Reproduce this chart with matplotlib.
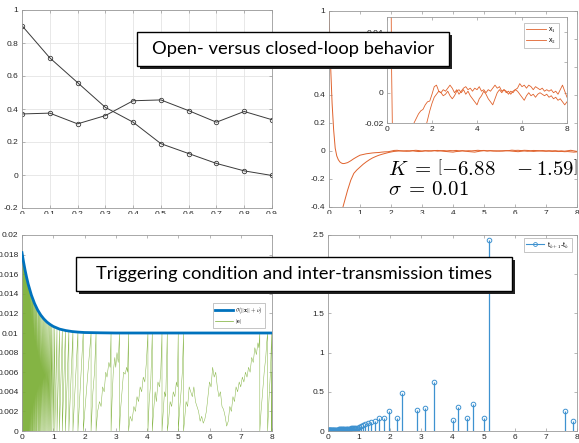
import numpy as np
import matplotlib
matplotlib.use("Agg")
from matplotlib import pyplot as plt
from matplotlib.lines import Line2D
from matplotlib.patches import Rectangle
from matplotlib.ticker import FormatStrFormatter

plt.rcParams['font.family'] = ['Liberation Sans', 'DejaVu Sans']
plt.rcParams['mathtext.fontset'] = 'cm'

W, H = 579, 443

# --- top left: open loop samples
ol_t = [0, 0.1, 0.2, 0.3, 0.4, 0.5, 0.6, 0.7, 0.8, 0.9]
ol_x1 = [0.905, 0.71, 0.56, 0.41, 0.32, 0.19, 0.13, 0.07, 0.025, -0.003]
ol_x2 = [0.37, 0.375, 0.31, 0.36, 0.45, 0.455, 0.39, 0.32, 0.385, 0.335]

# --- top right: closed loop states
cl_t = [0, 0.05, 0.1, 0.15, 0.2, 0.25, 0.3, 0.35, 0.4, 0.45, 0.5,
        0.6, 0.7, 0.8, 0.9, 1.0, 1.1, 1.2, 1.3, 1.4, 1.5, 1.6, 1.7, 1.8, 1.9, 2.0, 2.1,
        2.2, 2.3, 2.4, 2.5, 2.6, 2.7, 2.8, 2.9, 3.0, 3.1, 3.2, 3.3, 3.4, 3.5, 3.6, 3.7,
        3.8, 3.9, 4.0, 4.1, 4.2, 4.3, 4.4, 4.5, 4.6, 4.7, 4.8, 4.9, 5.0, 5.1, 5.2, 5.3,
        5.4, 5.5, 5.6, 5.7, 5.8, 5.9, 6.0, 6.1, 6.2, 6.3, 6.4, 6.5, 6.6, 6.7, 6.8, 6.9,
        7.0, 7.1, 7.2, 7.3, 7.4, 7.5, 7.6, 7.7, 7.8, 7.9, 8.0]
cl_x1 = [1.0, 0.62, 0.34, 0.15, 0.02, -0.035, -0.062, -0.078, -0.086, -0.09, -0.089,
         -0.083, -0.07, -0.055, -0.042, -0.03, -0.025, -0.02, -0.017, -0.014, -0.012,
         -0.011, -0.008, -0.006, -0.0055, -0.001, 0.004,
         0.005, 0.001, 0.0, 0.002, 0.001, 0.003, 0.005, 0.003, 0.0, 0.002, -0.001, 0.001,
         0.003, 0.004, 0.002, 0.003, 0.001, 0.003, 0.002, 0.004, 0.001, 0.002, 0.0, 0.002,
         0.001, 0.003, 0.005, 0.003, 0.004, 0.001, 0.002, 0.0, 0.001, -0.001, 0.001, 0.002,
         0.003, 0.006, 0.004, 0.005, 0.003, 0.005, 0.004, 0.002, 0.004, 0.003, 0.002, 0.003,
         0.001, 0.002, 0.001, 0.002, 0.0, 0.001, -0.001, 0.002, 0.005, 0.001, -0.003]
cl_x2 = [-2.0, -1.5, -1.15, -0.9, -0.75, -0.62, -0.54, -0.48, -0.44, -0.40, -0.36,
         -0.28, -0.21, -0.16, -0.135, -0.115, -0.095, -0.078, -0.063, -0.05, -0.04,
         -0.031, -0.024, -0.018, -0.012, -0.007, -0.003,
         -0.001, 0.001, 0.0, -0.002, -0.001, 0.001, -0.002, -0.004, -0.002, 0.001, 0.002, 0.0,
         0.002, -0.001, 0.001, -0.002, -0.004, -0.006, -0.008, -0.004, -0.002, 0.001, -0.001,
         -0.004, -0.006, -0.008, -0.004, 0.0, 0.002, 0.0, 0.002, 0.001, -0.001, 0.001, 0.0,
         0.002, 0.001, -0.001, -0.003, -0.005, -0.002, 0.0, -0.002, -0.001, -0.003, -0.001,
         0.0, -0.001, -0.002, -0.001, -0.003, -0.002, -0.004, -0.003, -0.005, -0.004, -0.006,
         -0.008, -0.006]

# --- bottom: triggering threshold sigma(|x|+nu)
thr_t = [0, 0.05, 0.1, 0.15, 0.2, 0.3, 0.4, 0.5, 0.6, 0.7, 0.8, 0.9, 1.0, 1.2, 1.4,
         1.6, 1.8, 2.0, 2.5, 3.0, 4.0, 5.0, 6.0, 7.0, 8.0]
thr_v = [0.0182, 0.01724, 0.01639, 0.01564, 0.01497, 0.01387, 0.01302, 0.01235, 0.01183,
         0.01143, 0.01111, 0.01087, 0.01067, 0.0104, 0.01025, 0.01015, 0.01009, 0.01005,
         0.01002, 0.0100, 0.0100, 0.0100, 0.0100, 0.0100, 0.0100]

# transmission instants t_k
trig_t = [0.000, 0.006, 0.013, 0.020, 0.028, 0.036, 0.045, 0.054, 0.064, 0.074, 0.085,
          0.096, 0.108, 0.120, 0.133, 0.146, 0.160, 0.174, 0.189, 0.204, 0.220, 0.236,
          0.253, 0.270, 0.288, 0.306, 0.325, 0.344, 0.364, 0.384, 0.405, 0.427, 0.449,
          0.472, 0.496, 0.520, 0.545, 0.571, 0.597, 0.624, 0.652, 0.681, 0.711, 0.742,
          0.774, 0.807, 0.841, 0.876, 0.912, 0.952, 0.995, 1.05, 1.12, 1.20, 1.29, 1.39,
          1.50, 1.63, 1.79, 1.96, 2.21, 2.37, 2.85, 3.12, 3.41, 4.03, 4.17, 4.48, 4.65,
          5.00, 5.17, 7.61, 7.86, 7.99]
# |e| just before each next transmission
e_peak = [0.0181, 0.0180, 0.0178, 0.0176, 0.0175, 0.0173, 0.0172, 0.0170, 0.0168, 0.0166,
          0.0164, 0.0163, 0.0161, 0.0159, 0.0157, 0.0155, 0.0153, 0.0151, 0.0149, 0.0148,
          0.0146, 0.0144, 0.0142, 0.0140, 0.0138, 0.0136, 0.0135, 0.0133, 0.0132, 0.0130,
          0.0129, 0.0127, 0.0126, 0.0124, 0.0123, 0.0121, 0.0120, 0.0118, 0.0117, 0.0116,
          0.0115, 0.0114, 0.0113, 0.0112, 0.0111, 0.0110, 0.0109, 0.0108, 0.0108, 0.0107,
          0.0106, 0.0105, 0.0104, 0.0103, 0.0103, 0.0102, 0.0102, 0.0101, 0.0101, 0.0100,
          0.0100, 0.0100, 0.0100, 0.0100, 0.0100, 0.0100, 0.0100, 0.0100, 0.0100, 0.0100,
          0.0100, 0.0100, 0.0100]
e_end = 0.006
# |e| in between transmissions (later, slower intervals)
e_mid_t = [2.27, 2.32,
           2.42, 2.48, 2.53, 2.58, 2.63, 2.68, 2.72, 2.78, 2.82,
           2.88, 2.92, 2.97, 3.0, 3.04, 3.08,
           3.15, 3.2, 3.25, 3.3, 3.35, 3.38,
           3.46, 3.52, 3.58, 3.63, 3.68, 3.73, 3.78, 3.83, 3.88, 3.93, 3.98,
           4.07, 4.12,
           4.21, 4.26, 4.3, 4.35, 4.4, 4.44,
           4.52, 4.56, 4.6,
           4.69, 4.74, 4.79, 4.84, 4.89, 4.94, 4.97,
           5.04, 5.09, 5.13,
           5.2, 5.25, 5.3, 5.35, 5.4, 5.45, 5.5, 5.55, 5.6, 5.65, 5.7, 5.75, 5.8, 5.85,
           5.9, 5.95, 6.0, 6.05, 6.1, 6.15, 6.2, 6.25, 6.3, 6.35, 6.4, 6.45, 6.5, 6.55,
           6.6, 6.65, 6.7, 6.75, 6.8, 6.85, 6.9, 6.95, 7.0, 7.05, 7.1, 7.15, 7.2, 7.25,
           7.3, 7.35, 7.4, 7.45, 7.5, 7.55, 7.58,
           7.65, 7.7, 7.75, 7.8, 7.83,
           7.9, 7.95]
e_mid_v = [0.004, 0.006,
           0.002, 0.003, 0.0025, 0.0045, 0.004, 0.006, 0.0055, 0.007, 0.0065,
           0.003, 0.006, 0.0075, 0.0065, 0.008, 0.007,
           0.002, 0.004, 0.006, 0.0058, 0.0065, 0.006,
           0.0015, 0.001, 0.0025, 0.002, 0.0035, 0.003, 0.0045, 0.004, 0.0055, 0.005, 0.007,
           0.003, 0.005,
           0.002, 0.004, 0.003, 0.005, 0.0045, 0.006,
           0.002, 0.004, 0.0035,
           0.001, 0.003, 0.0025, 0.004, 0.0035, 0.005, 0.0045,
           0.002, 0.004, 0.006,
           0.001, 0.003, 0.0025, 0.0045, 0.004, 0.0035, 0.0045, 0.003, 0.0025, 0.002, 0.001,
           0.0015, 0.0008, 0.0012, 0.002, 0.0035, 0.005, 0.0045, 0.0065, 0.0055, 0.006,
           0.0045, 0.0035, 0.004, 0.0025, 0.0022, 0.0015, 0.0005, 0.001, 0.0025, 0.002,
           0.0035, 0.003, 0.0045, 0.004, 0.005, 0.0045, 0.0055, 0.005, 0.006, 0.0055,
           0.0065, 0.006, 0.0075, 0.007, 0.0085, 0.0078, 0.009, 0.0085,
           0.002, 0.004, 0.006, 0.0075, 0.009,
           0.003, 0.006]

ORANGE = '#E0622C'
BLUE = '#0072BD'
STEM = '#3E92D0'
GREEN = '#77AC30'
SPINE = '#9a9a9a'


def px_axes(fig, left, top, right, bottom):
    return fig.add_axes([left / W, 1 - bottom / H, (right - left) / W, (bottom - top) / H])


def matlab_style(ax, fs=6):
    for s in ax.spines.values():
        s.set_color(SPINE)
        s.set_linewidth(0.6)
    ax.tick_params(direction='in', length=2.5, width=0.5, colors=SPINE,
                   labelcolor='#262626', labelsize=fs, top=True, right=True, pad=2.5)


def small_legend(ax, handles, labels, anchor, fs, hl):
    leg = ax.legend(handles, labels, loc='upper right', bbox_to_anchor=anchor, fontsize=fs,
                    frameon=True, fancybox=False, edgecolor=SPINE, handlelength=hl,
                    borderpad=0.35, labelspacing=0.25, handletextpad=0.4, borderaxespad=0)
    leg.get_frame().set_linewidth(0.5)
    return leg


def title_box(fig, text, left, top, right, bottom):
    shadow = Rectangle((left / W + 2.5 / W, 1 - bottom / H - 2.5 / H), (right - left) / W,
                       (bottom - top) / H, transform=fig.transFigure, facecolor='#222222',
                       edgecolor='none', zorder=20)
    box = Rectangle((left / W, 1 - bottom / H), (right - left) / W, (bottom - top) / H,
                    transform=fig.transFigure, facecolor='white', edgecolor='black',
                    linewidth=1.0, zorder=21)
    fig.add_artist(shadow)
    fig.add_artist(box)
    fig.text((left + right) / 2 / W, 1 - (top + bottom) / 2 / H, text, ha='center',
             va='center', fontsize=13.2, family=['Lato', 'DejaVu Sans'], zorder=22)


fig = plt.figure(figsize=(W / 100, H / 100), dpi=100)

# top left
ax1 = px_axes(fig, 22, 10, 272, 208)
ax1.plot(ol_t, ol_x1, '-o', color='#3a3a3a', lw=0.7, ms=3.2, mfc='none', mew=0.6)
ax1.plot(ol_t, ol_x2, '-o', color='#3a3a3a', lw=0.7, ms=3.2, mfc='none', mew=0.6)
ax1.set_xlim(0, 0.9)
ax1.set_ylim(-0.2, 1)
ax1.set_xticks(ol_t)
ax1.set_yticks([-0.2, 0, 0.2, 0.4, 0.6, 0.8, 1])
ax1.xaxis.set_major_formatter(FormatStrFormatter('%g'))
ax1.yaxis.set_major_formatter(FormatStrFormatter('%g'))
ax1.grid(True, color='#e4e4e4', lw=0.6)
ax1.set_axisbelow(True)
matlab_style(ax1)

# top right
ax2 = px_axes(fig, 329, 11, 577, 207)
ax2.plot(cl_t, cl_x1, color=ORANGE, lw=0.7)
ax2.plot(cl_t, cl_x2, color=ORANGE, lw=0.7)
ax2.set_xlim(0, 8)
ax2.set_ylim(-0.4, 1)
ax2.set_yticks([-0.4, -0.2, 0, 0.2, 0.4, 0.6, 0.8, 1])
ax2.yaxis.set_major_formatter(FormatStrFormatter('%g'))
matlab_style(ax2)

ins = px_axes(fig, 387, 17, 567, 123)
l1, = ins.plot(cl_t, cl_x1, color=ORANGE, lw=0.6)
l2, = ins.plot(cl_t, cl_x2, color=ORANGE, lw=0.6)
ins.set_xlim(0, 8)
ins.set_ylim(-0.02, 0.05)
ins.set_xticks([0, 2, 4, 6, 8])
ins.set_yticks([-0.02, 0, 0.02, 0.04])
ins.yaxis.set_major_formatter(FormatStrFormatter('%g'))
matlab_style(ins)
small_legend(ins, [l1, l2], ['x$_1$', 'x$_2$'], (0.955, 0.94), 5, 2.8)

fig.text(388 / W, 1 - 175 / H, r'$K\;=\,\left[-6.88 \quad -1.59\right]$', fontsize=15,
         va='baseline', ha='left', zorder=15)
fig.text(388 / W, 1 - 195 / H, r'$\sigma\;=\,0.01$', fontsize=15, va='baseline', ha='left',
         zorder=15)

# bottom left: triggering condition, |e| resets to 0 at every transmission
rows = []
for k, t in enumerate(trig_t):
    if k > 0:
        rows.append((t, 0, e_peak[k - 1]))
    rows.append((t, 1, 0.0))
for t, v in zip(e_mid_t, e_mid_v):
    rows.append((t, 0, v))
rows.append((8.0, 0, e_end))
rows.sort()
e_t = [r[0] for r in rows]
e_v = [r[2] for r in rows]

ax3 = px_axes(fig, 22, 235, 272, 431)
hb, = ax3.plot(thr_t, thr_v, color=BLUE, lw=2.0, zorder=3)
hg, = ax3.plot(e_t, e_v, color=GREEN, lw=0.35, alpha=0.9, zorder=2)
ax3.set_xlim(0, 8)
ax3.set_ylim(0, 0.02)
ax3.set_yticks(np.arange(0, 0.0201, 0.002))
ax3.yaxis.set_major_formatter(FormatStrFormatter('%g'))
matlab_style(ax3)
small_legend(ax3, [hb, Line2D([], [], color=GREEN, lw=0.5)],
             [r'$\sigma(\|\mathbf{x}\|+\nu)$', r'$|\mathbf{e}|$'], (0.972, 0.655), 4.2, 3.0)

# bottom right: inter-transmission times t_{k+1} - t_k
dt = np.diff(trig_t)
ax4 = px_axes(fig, 328, 235, 577, 431)
ax4.vlines(trig_t[:-1], 0, dt, colors=STEM, linewidth=0.9)
ax4.plot(trig_t[:-1], dt, 'o', color=STEM, ms=3.3, mfc='none', mew=0.7)
ax4.set_xlim(0, 8)
ax4.set_ylim(0, 2.5)
ax4.set_yticks([0, 0.5, 1, 1.5, 2, 2.5])
ax4.yaxis.set_major_formatter(FormatStrFormatter('%g'))
matlab_style(ax4)
small_legend(ax4, [Line2D([], [], color=STEM, lw=0.8, marker='o', ms=2.8, mfc='none',
                          mew=0.6)],
             ['t$_{k+1}$-t$_k$'], (0.978, 0.985), 5, 2.6)

# gap between the rows hides the lower half of the top tick labels
fig.add_artist(Rectangle((0, 1 - 228 / H), 1, 14 / H, transform=fig.transFigure,
                         facecolor='white', edgecolor='none', zorder=10))

title_box(fig, 'Open- versus closed-loop behavior', 137, 32, 449, 66)
title_box(fig, 'Triggering condition and inter-transmission times', 76, 257, 512, 291)

fig.savefig('out.png', dpi=100)
